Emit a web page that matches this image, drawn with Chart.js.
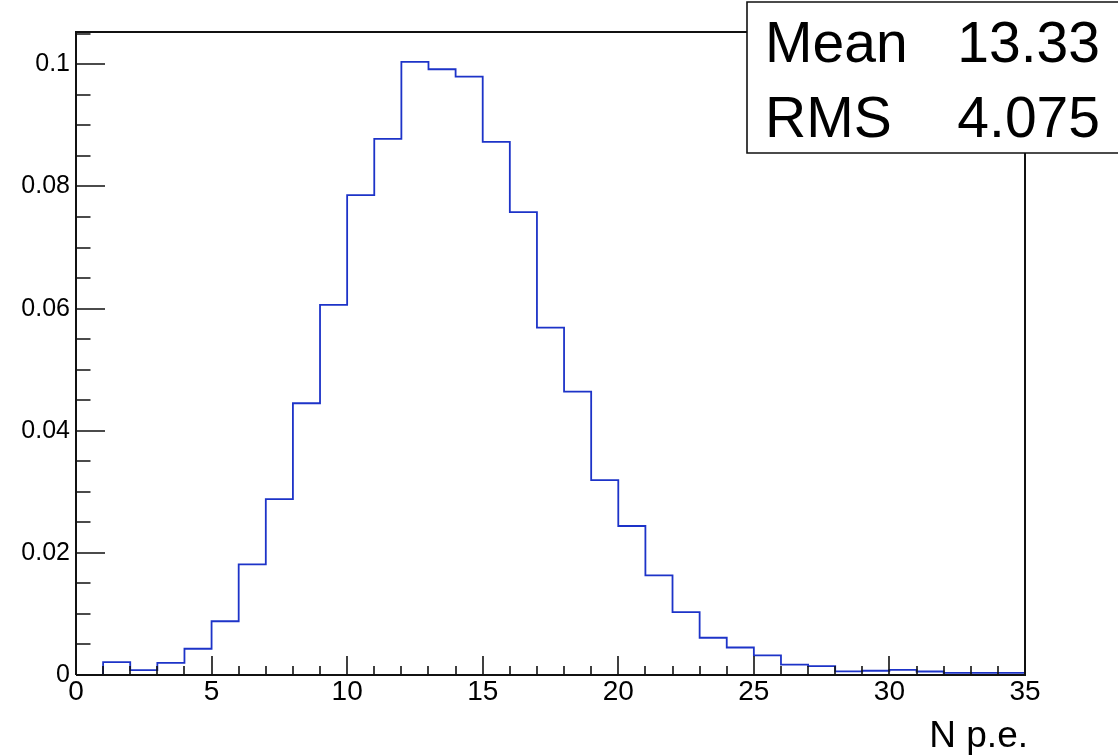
<!DOCTYPE html>
<html>
<head>
<meta charset="utf-8">
<title>N p.e.</title>
<script src="https://cdn.jsdelivr.net/npm/chart.js@4.4.1/dist/chart.umd.min.js"></script>
<style>
  html, body { margin: 0; padding: 0; background: #fff; }
  #wrap { width: 1118px; height: 755px; }
</style>
</head>
<body>
<div id="wrap"><canvas id="hist" width="1118" height="755"></canvas></div>
<script>
// histogram contents, bin width 1 starting at 0
const binLow = 0;
const binWidth = 1;
const binValues = [
  0, 0.0021, 0.0008, 0.0020, 0.0043, 0.0088, 0.0181, 0.0288, 0.0445, 0.0606,
  0.0786, 0.0878, 0.1004, 0.0992, 0.0980, 0.0873, 0.0758, 0.0569, 0.0464, 0.0319,
  0.0244, 0.0163, 0.0103, 0.0061, 0.0045, 0.0032, 0.0017, 0.00145, 0.0006, 0.0007,
  0.00085, 0.00057, 0.00035, 0.00035, 0.00035
];
const xTicks = [0, 5, 10, 15, 20, 25, 30, 35];
const yTicks = [0, 0.02, 0.04, 0.06, 0.08, 0.1];
const statLabels = ['Mean', 'RMS'];
const statValues = ['13.33', '4.075'];
const xTitle = 'N p.e.';

const FONT = "'Liberation Sans', Arial, Helvetica, sans-serif";
const LINE_BLUE = '#1d33c8';
const AXIS = '#111';

// step outline: one point per lower edge + closing point at last edge
const points = binValues.map((v, i) => ({ x: binLow + i * binWidth, y: v }));
points.push({ x: binLow + binValues.length * binWidth, y: binValues[binValues.length - 1] });

const rootFrame = {
  id: 'rootFrame',
  afterDraw(chart) {
    const ctx = chart.ctx;
    const a = chart.chartArea;
    const xs = chart.scales.x, ys = chart.scales.y;
    ctx.save();
    ctx.strokeStyle = AXIS;
    ctx.lineWidth = 2;

    // frame
    ctx.beginPath();
    ctx.moveTo(a.left, a.bottom);
    ctx.lineTo(a.left, a.top);
    ctx.lineTo(a.right, a.top);
    ctx.lineTo(a.right, a.bottom);
    ctx.lineTo(a.left, a.bottom);
    ctx.stroke();

    // x ticks, pointing inwards
    ctx.lineWidth = 1.6;
    ctx.beginPath();
    for (let v = xs.min; v <= xs.max + 1e-9; v += 1) {
      const px = Math.round(xs.getPixelForValue(v));
      const len = (v % 5 === 0) ? 19 : 9;
      ctx.moveTo(px, a.bottom);
      ctx.lineTo(px, a.bottom - len);
    }
    // y ticks
    for (let k = 0; k * 0.005 <= ys.max + 1e-9; k++) {
      const py = Math.round(ys.getPixelForValue(k * 0.005));
      const len = (k % 4 === 0) ? 29 : 14.5;
      ctx.moveTo(a.left, py);
      ctx.lineTo(a.left + len, py);
    }
    ctx.stroke();

    // stats box
    const bx = 747, by = 2, bh = 151;
    ctx.lineWidth = 1.6;
    ctx.fillStyle = '#fff';
    ctx.fillRect(bx, by, chart.width - bx + 5, bh);
    ctx.beginPath();
    ctx.moveTo(chart.width + 5, by);
    ctx.lineTo(bx, by);
    ctx.lineTo(bx, by + bh);
    ctx.lineTo(chart.width + 5, by + bh);
    ctx.stroke();

    ctx.fillStyle = '#000';
    ctx.font = '57px ' + FONT;
    ctx.textBaseline = 'alphabetic';
    const rows = [62, 137];
    statLabels.forEach((lab, i) => {
      ctx.textAlign = 'left';
      ctx.fillText(lab, 765, rows[i]);
      ctx.textAlign = 'right';
      ctx.fillText(statValues[i], 1100, rows[i]);
    });

    // axis title
    ctx.font = '37px ' + FONT;
    ctx.textAlign = 'right';
    ctx.fillText(xTitle, 1028, 747);
    ctx.restore();
  }
};

new Chart(document.getElementById('hist'), {
  type: 'line',
  data: {
    datasets: [{
      data: points,
      stepped: 'before',
      borderColor: LINE_BLUE,
      borderWidth: 1.8,
      pointRadius: 0,
      fill: false
    }]
  },
  options: {
    responsive: false,
    animation: false,
    events: [],
    layout: { padding: { top: 32, right: 93, left: 0, bottom: 0 } },
    plugins: { legend: { display: false }, tooltip: { enabled: false } },
    scales: {
      x: {
        type: 'linear',
        min: 0,
        max: 35,
        grid: { display: false, drawTicks: false },
        border: { display: false },
        afterFit: s => { s.height = 80; },
        afterBuildTicks: s => { s.ticks = xTicks.map(v => ({ value: v })); },
        ticks: {
          padding: 0,
          color: '#000',
          font: { family: FONT, size: 28 },
          callback: v => String(v)
        }
      },
      y: {
        min: 0,
        max: 0.1053,
        grid: { display: false, drawTicks: false },
        border: { display: false },
        afterFit: s => { s.width = 76; },
        afterBuildTicks: s => { s.ticks = yTicks.map(v => ({ value: v })); },
        ticks: {
          padding: 6,
          color: '#000',
          font: { family: FONT, size: 25 },
          callback: v => String(v)
        }
      }
    }
  },
  plugins: [rootFrame]
});
</script>
</body>
</html>
